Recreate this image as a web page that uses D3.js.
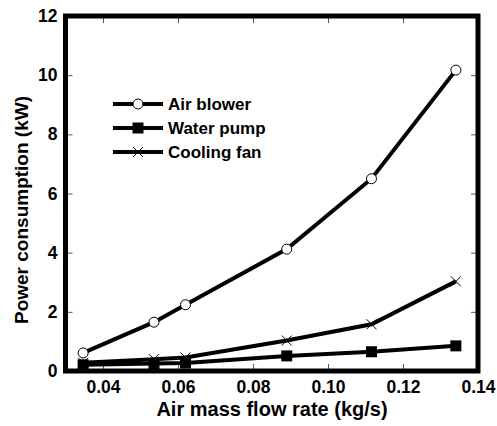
<!DOCTYPE html>
<html>
<head>
<meta charset="utf-8">
<script src="https://cdn.jsdelivr.net/npm/d3@7"></script>
<style>
  body { margin: 0; background: #fff; }
  text { font-family: "Liberation Sans", Arial, sans-serif; font-weight: bold; }
</style>
</head>
<body>
<div id="chart"></div>
<script>
// data
const flowRate = [0.0347, 0.0536, 0.062, 0.089, 0.1116, 0.1341];
const airBlower = [0.61, 1.65, 2.24, 4.12, 6.5, 10.17];
const waterPump = [0.21, 0.25, 0.27, 0.51, 0.65, 0.85];
const coolingFan = [0.28, 0.4, 0.46, 1.03, 1.58, 3.03];
const xTicks = [0.04, 0.06, 0.08, 0.10, 0.12, 0.14];
const yTicks = [0, 2, 4, 6, 8, 10, 12];

const series = [
  { name: "Air blower", values: airBlower, marker: "circle" },
  { name: "Water pump", values: waterPump, marker: "square" },
  { name: "Cooling fan", values: coolingFan, marker: "cross" }
];

const W = 497, H = 426;
const margin = { top: 16, right: 19, bottom: 55, left: 65.5 };
const width = W - margin.left - margin.right;
const height = H - margin.top - margin.bottom;

const x = d3.scaleLinear().domain([0.03, 0.14]).range([0, width]);
const y = d3.scaleLinear().domain([0, 12]).range([height, 0]);

const svg = d3.select("#chart").append("svg")
    .attr("width", W)
    .attr("height", H);

const g = svg.append("g")
    .attr("transform", `translate(${margin.left},${margin.top})`);

// inward ticks on all sides
const tickLen = 7;
g.append("g")
    .attr("transform", `translate(0,${height})`)
    .call(d3.axisBottom(x).tickValues(xTicks).tickSize(-tickLen).tickPadding(10)
        .tickFormat(d3.format(".2f")))
    .call(a => a.select(".domain").remove())
    .call(a => a.selectAll("line").attr("stroke", "#555"))
    .call(a => a.selectAll("text").attr("font-size", 17.5).attr("fill", "#000"));

g.append("g")
    .call(d3.axisTop(x).tickValues(xTicks).tickSize(-tickLen).tickFormat(""))
    .call(a => a.select(".domain").remove())
    .call(a => a.selectAll("line").attr("stroke", "#555"));

g.append("g")
    .call(d3.axisLeft(y).tickValues(yTicks).tickSize(-tickLen).tickPadding(8))
    .call(a => a.select(".domain").remove())
    .call(a => a.selectAll("line").attr("stroke", "#555"))
    .call(a => a.selectAll("text").attr("font-size", 17.5).attr("fill", "#000"));

g.append("g")
    .attr("transform", `translate(${width},0)`)
    .call(d3.axisRight(y).tickValues(yTicks).tickSize(-tickLen).tickFormat(""))
    .call(a => a.select(".domain").remove())
    .call(a => a.selectAll("line").attr("stroke", "#555"));

// frame
g.append("rect")
    .attr("width", width)
    .attr("height", height)
    .attr("fill", "none")
    .attr("stroke", "#000")
    .attr("stroke-width", 5);

const line = d3.line()
    .x((d, i) => x(flowRate[i]))
    .y(d => y(d));

function drawMarker(sel, type) {
  if (type === "circle") {
    sel.append("circle").attr("r", 5).attr("fill", "#fff").attr("stroke", "#000").attr("stroke-width", 1);
  } else if (type === "square") {
    sel.append("rect").attr("x", -5.5).attr("y", -5.5).attr("width", 11).attr("height", 11).attr("fill", "#000");
  } else {
    sel.append("path").attr("d", "M-5,-5L5,5M-5,5L5,-5").attr("stroke", "#000").attr("stroke-width", 1);
  }
}

series.forEach(s => {
  g.append("path")
      .datum(s.values)
      .attr("fill", "none")
      .attr("stroke", "#000")
      .attr("stroke-width", 4)
      .attr("d", line);
});

series.forEach(s => {
  g.selectAll(null)
    .data(s.values)
    .join("g")
      .attr("transform", (d, i) => `translate(${x(flowRate[i])},${y(d)})`)
      .each(function () { drawMarker(d3.select(this), s.marker); });
});

// legend
const legend = g.append("g").attr("transform", "translate(47.5,88)");
series.forEach((s, i) => {
  const row = legend.append("g").attr("transform", `translate(0,${i * 24})`);
  row.append("line").attr("x1", 0).attr("x2", 50).attr("stroke", "#000").attr("stroke-width", 4);
  drawMarker(row.append("g").attr("transform", "translate(25,0)"), s.marker);
  row.append("text").attr("x", 55).attr("dy", "0.35em").attr("font-size", 17).text(s.name);
});

// axis titles
svg.append("text")
    .attr("x", 272)
    .attr("y", 416)
    .attr("text-anchor", "middle")
    .attr("font-size", 20)
    .text("Air mass flow rate (kg/s)");

svg.append("text")
    .attr("transform", "translate(28,210) rotate(-90)")
    .attr("text-anchor", "middle")
    .attr("font-size", 19)
    .text("Power consumption (kW)");
</script>
</body>
</html>
